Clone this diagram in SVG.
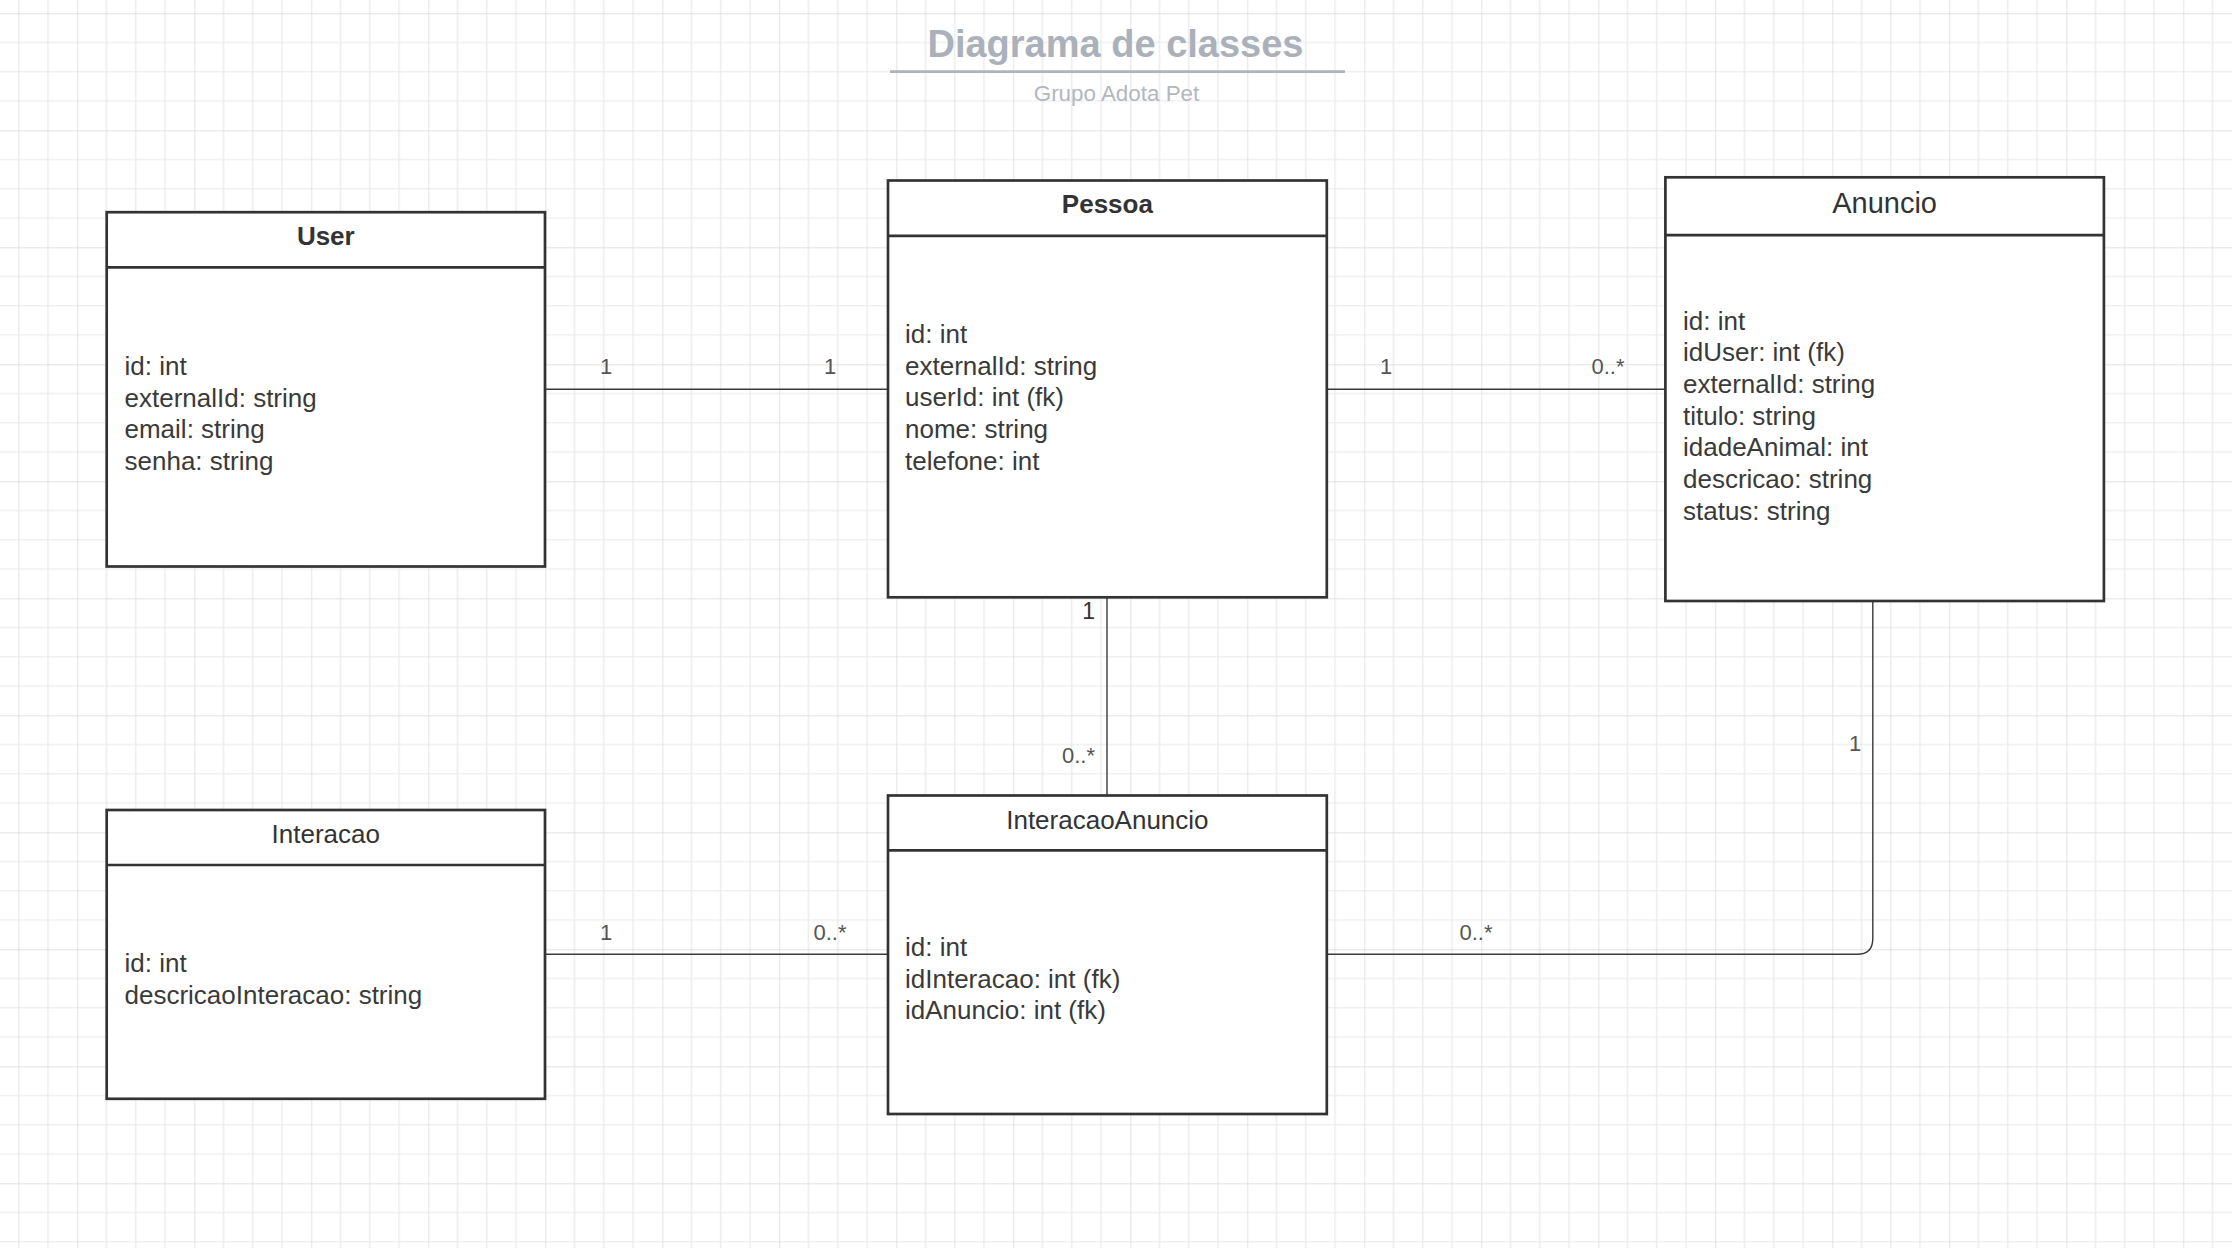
<svg xmlns="http://www.w3.org/2000/svg" width="2232" height="1248" viewBox="0 0 2232 1248">
  <style>
    .box { fill: #ffffff; stroke: #333333; stroke-width: 2.7; }
    .div { stroke: #333333; stroke-width: 2.7; }
    .hdr { font-family: "Liberation Sans", Arial, sans-serif; font-size: 26px; fill: #333333; text-anchor: middle; }
    .bold { font-weight: bold; }
    .attr { font-family: "Liberation Sans", Arial, sans-serif; font-size: 26px; fill: #3a3a3a; }
    .conn { fill: none; stroke: #3a3a3a; stroke-width: 1.4; }
    .lbl { font-family: "Liberation Sans", Arial, sans-serif; font-size: 22px; fill: #555555; text-anchor: middle; }
    .title { font-family: "Liberation Sans", Arial, sans-serif; font-size: 38px; font-weight: bold; fill: #abb1ba; text-anchor: middle; }
    .sub { font-family: "Liberation Sans", Arial, sans-serif; font-size: 22.4px; fill: #b2b7bf; text-anchor: middle; }
  </style>
  <defs>
    <pattern id="grid" patternUnits="userSpaceOnUse" x="-39.7" y="13.3" width="117" height="117">
      <rect width="117" height="117" fill="#ffffff"/>
      <g stroke="#e9e9e9" stroke-width="1.2">
        <line x1="29.25" y1="0" x2="29.25" y2="117"/>
        <line x1="58.5" y1="0" x2="58.5" y2="117"/>
        <line x1="87.75" y1="0" x2="87.75" y2="117"/>
        <line x1="0" y1="29.25" x2="117" y2="29.25"/>
        <line x1="0" y1="58.5" x2="117" y2="58.5"/>
        <line x1="0" y1="87.75" x2="117" y2="87.75"/>
      </g>
      <g stroke="#d9d9d9" stroke-width="1.4">
        <line x1="0" y1="0" x2="0" y2="117"/>
        <line x1="0" y1="0" x2="117" y2="0"/>
      </g>
    </pattern>
  </defs>
  <rect x="0" y="0" width="2232" height="1248" fill="url(#grid)"/>

  <g id="title">
    <text class="title" x="1115.5" y="56.7">Diagrama de classes</text>
    <line x1="890" y1="71.7" x2="1345" y2="71.7" stroke="#aeb4bd" stroke-width="2.7"/>
    <text class="sub" x="1116.5" y="100.7">Grupo Adota Pet</text>
  </g>

  <g id="connectors">
    <line class="conn" x1="545" y1="389.3" x2="888" y2="389.3"/>
    <text class="lbl" x="606" y="374.3">1</text>
    <text class="lbl" x="830" y="374.3">1</text>

    <line class="conn" x1="1327" y1="389.3" x2="1665" y2="389.3"/>
    <text class="lbl" x="1386" y="374.3">1</text>
    <text class="lbl" x="1608" y="374.3">0..*</text>

    <line class="conn" x1="1107" y1="597" x2="1107" y2="795"/>
    <text class="lbl" x="1095" y="619.3" style="text-anchor:end;font-size:23px;fill:#333333">1</text>
    <text class="lbl" x="1095" y="763.3" style="text-anchor:end">0..*</text>

    <line class="conn" x1="545" y1="954.3" x2="888" y2="954.3"/>
    <text class="lbl" x="606" y="939.6">1</text>
    <text class="lbl" x="830" y="939.6">0..*</text>

    <path class="conn" d="M1327,954.3 H1857 Q1872.8,954.3 1872.8,938.5 V601"/>
    <text class="lbl" x="1476" y="939.6">0..*</text>
    <text class="lbl" x="1855" y="750.6">1</text>
  </g>

  <g id="User">
    <rect class="box" x="106.7" y="212.2" width="438.3" height="354.3"/>
    <line class="div" x1="106.7" y1="267.3" x2="545" y2="267.3"/>
    <text class="hdr bold" x="325.8" y="244.8">User</text>
    <text class="attr" x="124.5">
      <tspan x="124.5" y="375">id: int</tspan>
      <tspan x="124.5" y="406.7">externalId: string</tspan>
      <tspan x="124.5" y="438.4">email: string</tspan>
      <tspan x="124.5" y="470.1">senha: string</tspan>
    </text>
  </g>

  <g id="Pessoa">
    <rect class="box" x="888" y="180.5" width="438.8" height="416.8"/>
    <line class="div" x1="888" y1="235.8" x2="1326.8" y2="235.8"/>
    <text class="hdr bold" x="1107.4" y="213.3">Pessoa</text>
    <text class="attr" x="905">
      <tspan x="905" y="343">id: int</tspan>
      <tspan x="905" y="374.7">externalId: string</tspan>
      <tspan x="905" y="406.4">userId: int (fk)</tspan>
      <tspan x="905" y="438.1">nome: string</tspan>
      <tspan x="905" y="469.8">telefone: int</tspan>
    </text>
  </g>

  <g id="Anuncio">
    <rect class="box" x="1665.4" y="177.3" width="438.5" height="423.7"/>
    <line class="div" x1="1665.4" y1="235.2" x2="2103.9" y2="235.2"/>
    <text class="hdr" x="1884.6" y="213" style="font-size:29px">Anuncio</text>
    <text class="attr" x="1683">
      <tspan x="1683" y="329.5">id: int</tspan>
      <tspan x="1683" y="361.2">idUser: int (fk)</tspan>
      <tspan x="1683" y="392.9">externalId: string</tspan>
      <tspan x="1683" y="424.6">titulo: string</tspan>
      <tspan x="1683" y="456.3">idadeAnimal: int</tspan>
      <tspan x="1683" y="488">descricao: string</tspan>
      <tspan x="1683" y="519.7">status: string</tspan>
    </text>
  </g>

  <g id="Interacao">
    <rect class="box" x="106.7" y="810" width="438.3" height="288.8"/>
    <line class="div" x1="106.7" y1="865" x2="545" y2="865"/>
    <text class="hdr" x="325.8" y="843.3">Interacao</text>
    <text class="attr" x="124.5">
      <tspan x="124.5" y="972">id: int</tspan>
      <tspan x="124.5" y="1003.7">descricaoInteracao: string</tspan>
    </text>
  </g>

  <g id="InteracaoAnuncio">
    <rect class="box" x="888" y="795.5" width="438.8" height="318.5"/>
    <line class="div" x1="888" y1="850.3" x2="1326.8" y2="850.3"/>
    <text class="hdr" x="1107.4" y="828.6">InteracaoAnuncio</text>
    <text class="attr" x="905">
      <tspan x="905" y="956">id: int</tspan>
      <tspan x="905" y="987.7">idInteracao: int (fk)</tspan>
      <tspan x="905" y="1019.4">idAnuncio: int (fk)</tspan>
    </text>
  </g>
</svg>
